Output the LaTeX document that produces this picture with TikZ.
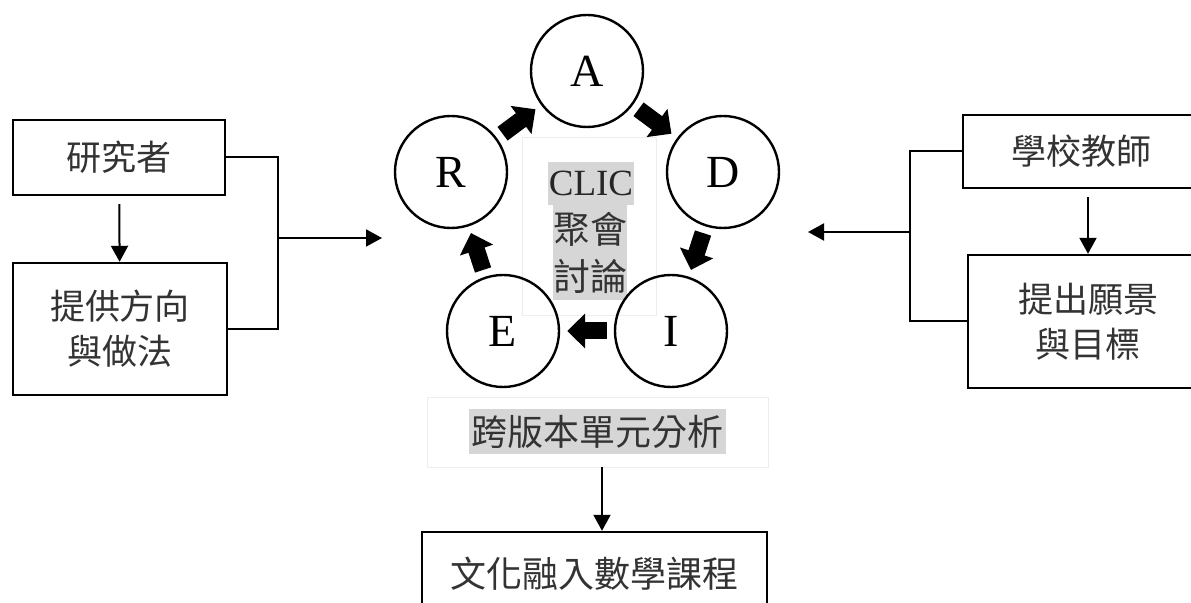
\documentclass[tikz,border=0pt]{standalone}
\usepackage{fontspec}
\setmainfont{Liberation Serif}
\newfontfamily\cjk{Noto Sans CJK TC}
\usetikzlibrary{arrows.meta}
\tikzset{
  boite/.style = {draw=black, line width=1.2pt, align=center, inner sep=0pt,
    text=black!80, font=\cjk\fontsize{17.5}{22.5}\selectfont},% bloc de texte
  rond/.style = {circle, draw=black, line width=1.2pt, minimum size=56pt,
    inner sep=0pt, font=\fontsize{23}{26}\selectfont},% etape du cycle
  surligne/.style = {fill=black!16, inner sep=0pt, align=center},% texte surligne
  pale/.style = {draw=black!7, line width=0.4pt, inner sep=0pt},% cadre pale
  lien/.style = {line width=1pt, -{Triangle[length=8pt,width=8.5pt]}},% fleche fine
  trait/.style = {line width=1pt},% ligne simple
  fleche/.style = {line width=8.5pt, -{Triangle[length=9pt,width=17pt]},
    shorten <=3.5pt, shorten >=3.5pt}% grosse fleche du cycle
}
\begin{document}
\begin{tikzpicture}[x=0.5pt,y=-0.5pt]
\useasboundingbox (0,0) rectangle (1191,603);
\clip (0,0) rectangle (1191,603);
% cote gauche
\node [boite, minimum width=106pt, minimum height=37.5pt] (res) at (119,157.5) {研究者};
\node [boite, minimum width=107pt, minimum height=66pt] (dir) at (120,329) {提供方向\\與做法};
\coordinate (jg) at (278,238);
\coordinate (cg) at (382,238);
\draw [lien, shorten <=4pt] (res) -- (dir);
\draw [trait] (res.east) -| (jg) |- (dir.east);
\draw [lien] (jg) -- (cg);
% cote droit
\node [boite, minimum width=118pt, minimum height=36.5pt] (teach) at (1081,151.5) {學校教師};
\node [boite, minimum width=120pt, minimum height=66.5pt] (vision) at (1088,321.5) {提出願景\\與目標};
\coordinate (jd) at (910,232);
\coordinate (cd) at (808,232);
\draw [lien, shorten <=4pt] (teach.south -| vision.north) -- (vision.north);
\draw [trait] (teach.west) -| (jd) |- (vision.west);
\draw [lien] (jd) -- (cd);
% cycle
\node [pale, minimum width=67pt, minimum height=89pt] (cadre) at (589,226) {};
\node [surligne, minimum width=43pt, minimum height=21.5pt,
  font=\fontsize{18.5}{22}\selectfont, text=black!85] (clic) at (591,183.5) {CLIC};
\node [surligne, minimum width=37pt, minimum height=47.5pt,
  font=\cjk\fontsize{18.5}{23.5}\selectfont, text=black!80] (talk) at (590,252.5) {聚會\\討論};
\node [rond] (A) at (587,71) {A};
\node [rond] (D) at (723,172) {D};
\node [rond] (I) at (671,331) {I};
\node [rond] (E) at (503,331) {E};
\node [rond] (R) at (451,172) {R};
\draw [fleche] (R) -- (A);
\draw [fleche] (A) -- (D);
\draw [fleche] (D) -- (I);
\draw [fleche] (I) -- (E);
\draw [fleche] (E) -- (R);
% bas
\node [pale, minimum width=170.5pt, minimum height=35pt] (unitcadre) at (597.5,432) {};
\node [surligne, minimum width=128.5pt, minimum height=22.5pt,
  font=\cjk\fontsize{18}{22}\selectfont, text=black!80] (unit) at (597,432) {跨版本單元分析};
\node [boite, minimum width=172.5pt, minimum height=42pt, font=\cjk\fontsize{18}{22}\selectfont]
  (curr) at (594.5,574) {文化融入數學課程};
\draw [lien] (unitcadre.south -| 602,0) -- (curr.north -| 602,0);
\end{tikzpicture}
\end{document}
